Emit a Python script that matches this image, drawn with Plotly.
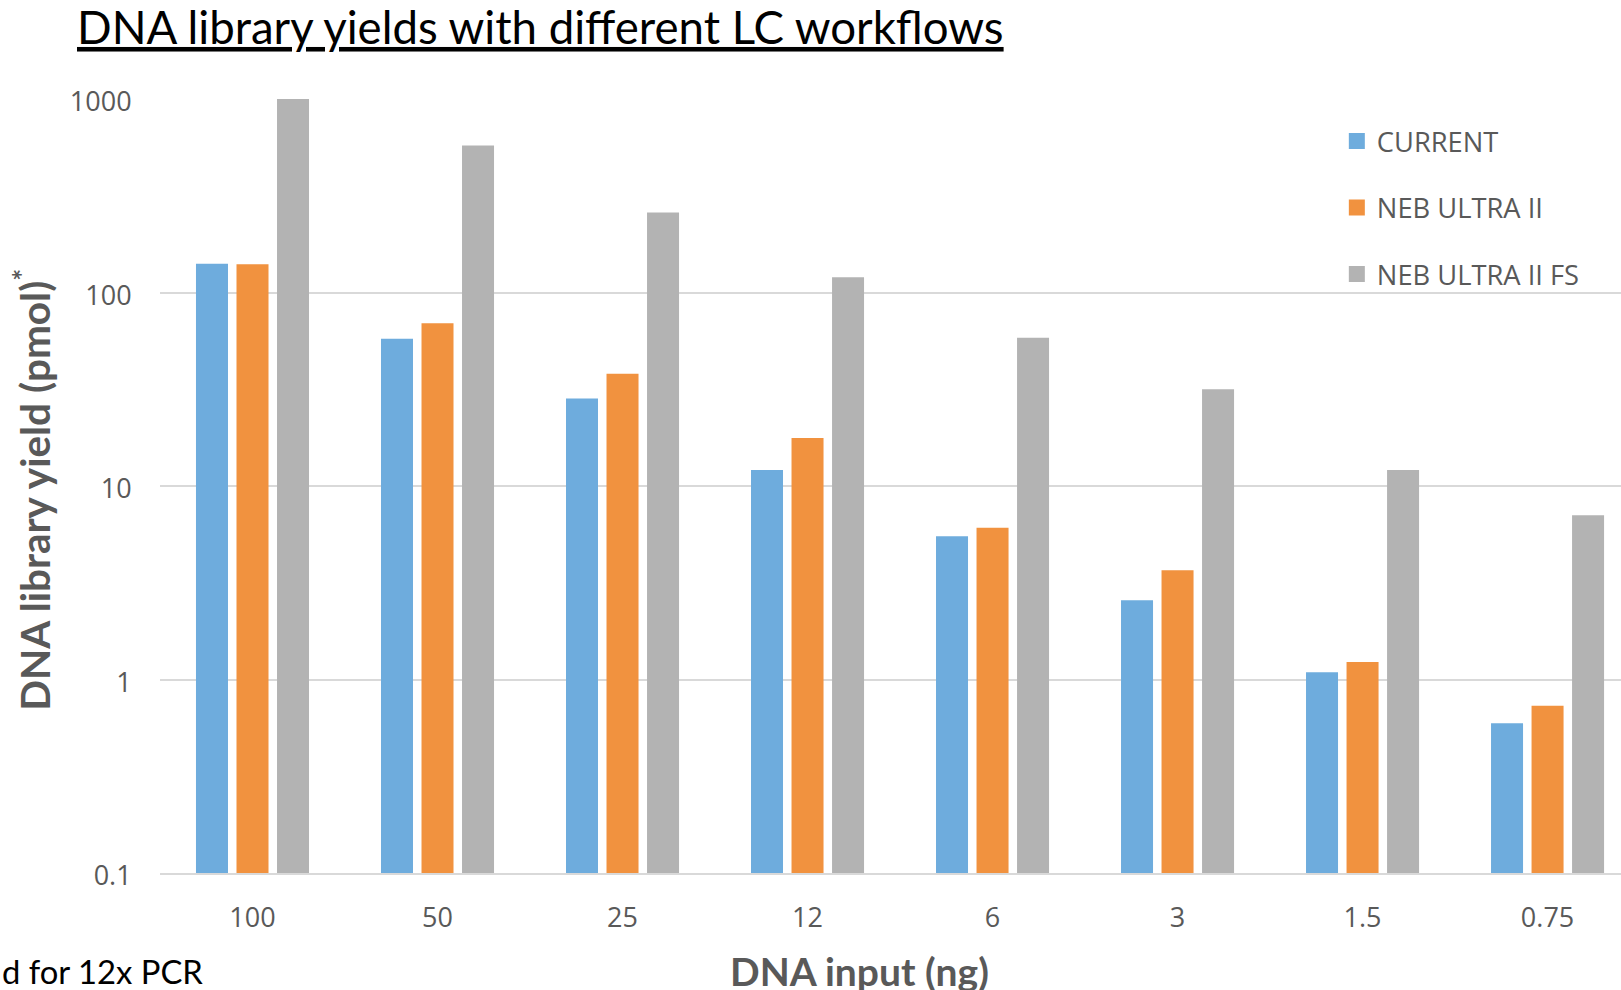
import plotly.graph_objects as go

categories = ["100", "50", "25", "12", "6", "3", "1.5", "0.75"]
current = [141, 57.7, 28.3, 12.1, 5.5, 2.57, 1.09, 0.594]
neb_ultra_ii = [140, 69.4, 38.0, 17.7, 6.08, 3.67, 1.23, 0.732]
neb_ultra_ii_fs = [1000, 575, 259, 120, 58.4, 31.6, 12.1, 7.06]

series_names = ["CURRENT", "NEB ULTRA II", "NEB ULTRA II FS"]
series_colors = ["#6EACDD", "#F1923F", "#B3B3B3"]
y_tick_vals = [0.1, 1, 10, 100, 1000]
y_tick_text = ["0.1", "1", "10", "100", "1000"]

W, H = 1621, 990
L, R, T, B = 160, 0, 99, 117

fig = go.Figure()
for name, vals, col in zip(series_names, [current, neb_ultra_ii, neb_ultra_ii_fs], series_colors):
    fig.add_trace(go.Bar(x=categories, y=vals, name=name, marker_color=col,
                         marker_line_width=0, showlegend=False))
# legend entries (square swatches)
for name, col in zip(series_names, series_colors):
    fig.add_trace(go.Scatter(x=[None], y=[None], mode="markers", name=name, legendgroup=name,
                             marker=dict(symbol="square", size=16, color=col), showlegend=True))

tick_font = dict(family="Open Sans, sans-serif", size=27, color="#595959")

fig.update_layout(
    width=W, height=H,
    margin=dict(l=L, r=R, t=T, b=B, autoexpand=False),
    paper_bgcolor="white", plot_bgcolor="white",
    barmode="group", bargap=0.343, bargroupgap=0.21,
    title=dict(text="DNA library yields with different LC workflows",
               font=dict(family="Lato, sans-serif", size=45.6, color="black", lineposition="under"),
               x=77 / W, xanchor="left", xref="container",
               y=1 - 28 / H, yanchor="middle", yref="container"),
    legend=dict(x=0.8055, xanchor="left", y=0.977, yanchor="top",
                font=dict(family="Open Sans, sans-serif", size=27.3, color="#595959"),
                tracegroupgap=28, bgcolor="rgba(0,0,0,0)", itemsizing="trace"),
    xaxis=dict(type="category", range=[-0.5, 7.397], showgrid=False,
               showline=True, linecolor="#D9D9D9", linewidth=2,
               ticks="outside", ticklen=20, tickcolor="rgba(0,0,0,0)",
               tickfont=tick_font, fixedrange=True),
    yaxis=dict(type="log", range=[-1, 3], tickvals=y_tick_vals, ticktext=y_tick_text,
               showgrid=True, gridcolor="#D9D9D9", gridwidth=1.5,
               zeroline=False, showline=False,
               ticks="outside", ticklen=22, tickcolor="rgba(0,0,0,0)",
               ticklabelshift=3,
               tickfont=tick_font, fixedrange=True),
    annotations=[
        dict(text="DNA library yield (pmol)<sup>*</sup>", textangle=-90,
             font=dict(family="Lato, sans-serif", size=40.5, color="#595959", weight="bold"),
             xref="paper", yref="paper", x=(32 - L) / (W - L - R), y=0.495,
             xanchor="center", yanchor="middle", showarrow=False),
        dict(text="DNA input (ng)",
             font=dict(family="Lato, sans-serif", size=39, color="#595959", weight="bold"),
             xref="paper", yref="paper", x=(859 - L) / (W - L - R), y=-(971 - (H - B)) / (H - T - B),
             xanchor="center", yanchor="middle", showarrow=False),
        dict(text="d for 12x PCR",
             font=dict(family="Lato, sans-serif", size=32.8, color="black"),
             xref="paper", yref="paper", x=(0 - L) / (W - L - R), y=-(971 - (H - B)) / (H - T - B),
             xanchor="left", yanchor="middle", showarrow=False),
    ],
)

fig.write_html("out.html")
